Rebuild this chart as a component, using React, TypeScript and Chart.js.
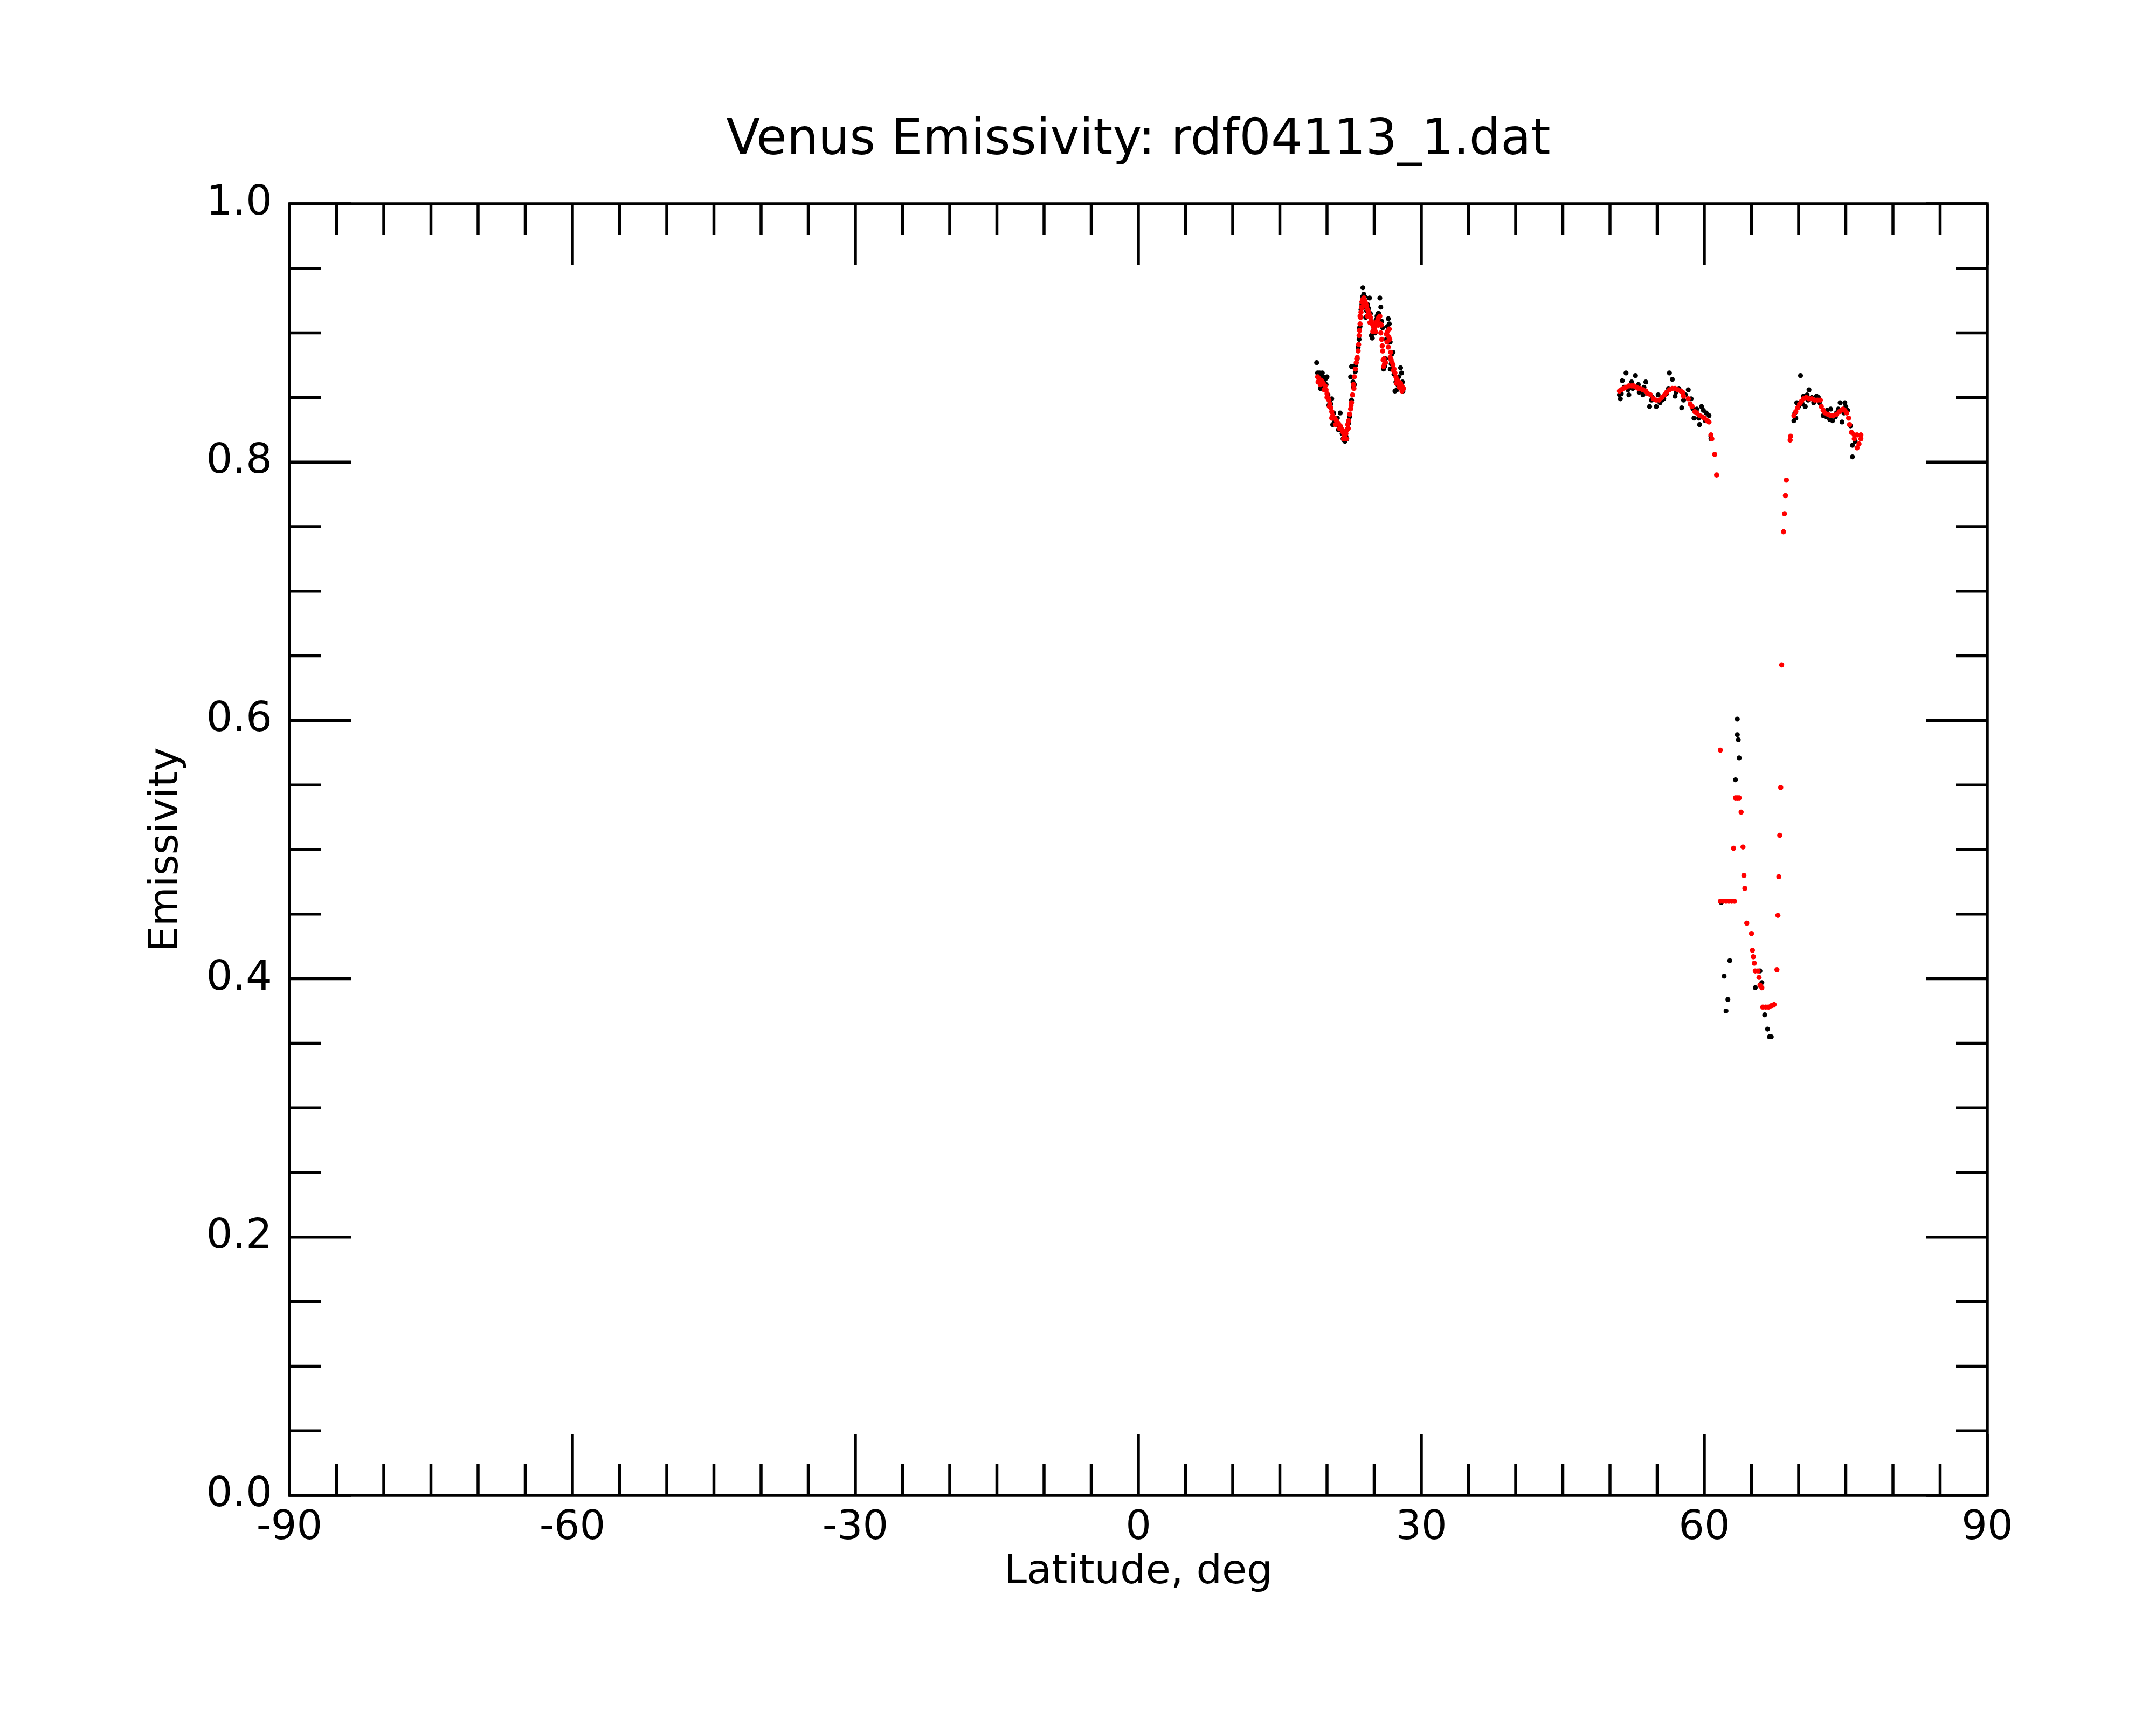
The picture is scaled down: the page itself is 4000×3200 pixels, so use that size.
import { useEffect, useRef } from 'react';
import { Chart, registerables } from 'chart.js';

Chart.register(...registerables);

const FONT = 'DejaVu Sans';

// red (filtered) points: latitude, emissivity
const redLat = [
  19.0, 19.1, 19.2, 19.4, 19.6, 19.8, 19.9, 20.0, 20.1, 20.2, 20.3, 20.4, 20.5, 20.6, 20.8, 21.0,
  21.2, 21.4, 21.6, 21.7, 21.8, 21.9, 22.0, 22.1, 22.2, 22.3, 22.4, 22.5, 22.6, 22.7, 22.8, 22.9,
  23.0, 23.1, 23.2, 23.3, 23.35, 23.4, 23.45, 23.5, 23.55, 23.6, 23.65, 23.7, 23.8, 23.9, 24.0,
  24.1, 24.2, 24.3, 24.4, 24.5, 24.6, 24.7, 24.8, 24.9, 25.0, 25.1, 25.2, 25.3, 25.4, 25.5, 25.6,
  25.7, 25.75, 25.8, 25.85, 25.9, 25.95, 26.0, 26.1, 26.2, 26.3, 26.4, 26.5, 26.6, 26.65, 26.7,
  26.8, 26.9, 27.0, 27.1, 27.2, 27.3, 27.4, 27.5, 27.6, 27.7, 27.8, 27.9, 28.0, 28.1,
  19.05, 19.3, 19.7, 20.0, 20.25, 20.5, 20.9, 21.3, 21.75, 22.05, 22.25, 22.55, 22.85, 23.15, 23.5, 23.7,
  23.85, 24.25, 24.55, 24.85, 25.15, 25.45, 25.65, 26.05, 26.35, 26.55, 26.75, 27.05, 27.35, 27.65, 27.95,
  51.0, 51.2, 51.4, 51.7, 52.0, 52.3, 52.5, 52.8, 53.0, 53.2, 53.5, 53.8, 54.0, 54.3, 54.6, 54.9,
  55.2, 55.5, 55.8, 56.0, 56.3, 56.6, 56.9, 57.2, 57.5, 57.7, 57.8, 58.3, 58.5, 58.7, 59.0, 59.2,
  59.5, 59.8, 60.0, 60.3, 60.5, 60.7, 60.8, 61.1, 61.3,
  61.7, 61.7, 62.0, 62.3, 62.6, 62.9, 63.2, 63.3, 63.5, 63.7, 63.9, 63.1, 64.1, 64.2, 64.3, 64.5,
  65.0, 65.1, 65.2, 65.3, 65.4, 65.7, 65.8, 65.9, 66.1, 66.2, 66.5, 66.8, 67.1, 67.4, 67.7, 67.8,
  67.9, 68.0, 68.1, 68.2, 68.4, 68.5, 68.6, 68.7, 69.1, 69.15,
  69.5, 69.7, 69.9, 70.1, 70.3, 70.5, 70.8, 71.1, 71.4, 71.7, 72.0, 72.3, 72.4, 72.6, 72.8, 73.1,
  73.4, 73.7, 74.0, 74.3, 74.5, 74.7, 74.9, 75.1, 75.3, 75.4, 75.6, 75.9, 76.2, 76.6, 76.6, 76.4,
  76.2, 75.9,
];
const redEm = [
  0.866, 0.865, 0.864, 0.863, 0.861, 0.859, 0.856, 0.853, 0.85, 0.848, 0.845, 0.842, 0.839, 0.836, 0.834, 0.832,
  0.83, 0.828, 0.825, 0.823, 0.821, 0.819, 0.822, 0.825, 0.829, 0.832, 0.837, 0.841, 0.846, 0.852, 0.86, 0.866,
  0.872, 0.877, 0.881, 0.886, 0.891, 0.898, 0.902, 0.907, 0.912, 0.916, 0.92, 0.924, 0.926, 0.927, 0.925,
  0.923, 0.921, 0.918, 0.916, 0.914, 0.912, 0.909, 0.907, 0.905, 0.903, 0.905, 0.907, 0.909, 0.911, 0.912, 0.913,
  0.9, 0.906, 0.895, 0.89, 0.886, 0.879, 0.874, 0.876, 0.877, 0.899, 0.901, 0.889, 0.903, 0.895, 0.881,
  0.879, 0.877, 0.875, 0.872, 0.869, 0.866, 0.864, 0.863, 0.862, 0.861, 0.861, 0.859, 0.858, 0.857,
  0.862, 0.86, 0.856, 0.85, 0.843, 0.834, 0.829, 0.826, 0.818, 0.818, 0.826, 0.844, 0.857, 0.88, 0.913, 0.919,
  0.921, 0.913, 0.908, 0.901, 0.901, 0.906, 0.907, 0.88, 0.893, 0.897, 0.885, 0.871, 0.861, 0.858, 0.855,
  0.855, 0.856, 0.857, 0.858, 0.859, 0.859, 0.859, 0.858, 0.857, 0.857, 0.856, 0.855, 0.853, 0.852, 0.849, 0.848,
  0.848, 0.85, 0.852, 0.854, 0.856, 0.857, 0.857, 0.856, 0.855, 0.854, 0.851, 0.849, 0.845, 0.843, 0.839, 0.838,
  0.836, 0.835, 0.834, 0.832, 0.831, 0.821, 0.818, 0.806, 0.79,
  0.577, 0.46, 0.46, 0.46, 0.46, 0.46, 0.46, 0.54, 0.54, 0.54, 0.529, 0.501, 0.502, 0.48, 0.47, 0.443,
  0.435, 0.422, 0.417, 0.412, 0.406, 0.406, 0.401, 0.395, 0.393, 0.378, 0.378, 0.378, 0.379, 0.38, 0.407, 0.449,
  0.479, 0.511, 0.548, 0.643, 0.746, 0.76, 0.774, 0.786, 0.817, 0.82,
  0.836, 0.839, 0.842, 0.845, 0.847, 0.849, 0.85, 0.849, 0.849, 0.848, 0.848, 0.848, 0.843, 0.84, 0.838, 0.837,
  0.836, 0.836, 0.837, 0.839, 0.84, 0.841, 0.84, 0.838, 0.834, 0.829, 0.823, 0.821, 0.821, 0.821, 0.818, 0.814,
  0.811, 0.818,
];

// black (raw) points: latitude, emissivity
const blackLat = [
  18.9, 19.0, 19.2, 19.3, 19.5, 19.6, 19.8, 20.0, 20.1, 20.3, 20.5, 20.6, 20.7, 20.9, 21.0, 21.2,
  21.4, 21.5, 21.7, 21.8, 22.0, 22.1, 22.3, 22.5, 22.6, 22.7, 22.8, 22.9, 23.0, 23.2, 23.4, 23.5,
  23.7, 23.8, 23.9, 24.0, 24.1, 24.3, 24.5, 24.6, 24.7, 24.8, 25.0, 25.2, 25.4, 25.6, 25.7, 25.9,
  26.0, 26.2, 26.4, 26.5, 26.6, 26.7, 26.9, 27.0, 27.2, 27.4, 27.6, 27.8, 27.9, 28.0,
  19.1, 19.4, 19.7, 19.9, 20.2, 20.4, 20.8, 21.1, 21.3, 21.6, 21.9, 22.2, 22.4, 22.6, 22.75, 23.05,
  23.3, 23.45, 23.6, 23.75, 24.0, 24.2, 24.4, 24.6, 24.9, 25.1, 25.3, 25.5, 25.8, 26.1, 26.3, 26.7,
  26.8, 27.1, 27.3, 27.5, 27.7, 28.05,
  51.0, 51.1, 51.3, 51.5, 51.7, 52.0, 52.3, 52.7, 53.0, 53.3, 53.5, 53.8, 54.2, 54.5, 54.9, 55.1,
  55.5, 56.0, 56.3, 56.6, 56.9, 57.3, 57.6, 58.0, 58.3, 58.6, 58.9, 59.2, 59.5, 59.7, 59.9, 60.2,
  60.5, 60.7,
  51.2, 51.9, 52.4, 53.1, 53.6, 54.4, 55.3, 55.7, 56.2, 57.0, 57.8, 58.8, 59.4, 60.1, 60.7,
  61.8, 62.1, 62.3, 62.5, 62.7, 63.3, 63.5, 63.5, 63.6, 63.7, 65.4, 65.9, 66.1, 66.4, 66.7, 66.9,
  67.1,
  69.5, 69.6, 69.8, 70.0, 70.2, 70.5, 70.7, 70.9, 71.1, 71.4, 71.9, 72.2, 72.6, 73.0, 73.4, 73.6,
  74.0, 74.4, 74.6, 74.9, 75.2, 75.7, 75.7,
  69.7, 70.4, 71.0, 71.6, 72.1, 72.9, 73.3, 73.9, 74.2, 74.8, 75.0, 75.5, 76.0,
];
const blackEm = [
  0.877, 0.869, 0.869, 0.857, 0.869, 0.866, 0.864, 0.866, 0.852, 0.846, 0.849, 0.829, 0.838, 0.834, 0.829, 0.825,
  0.838, 0.826, 0.818, 0.817, 0.82, 0.818, 0.83, 0.866, 0.874, 0.874, 0.858, 0.86, 0.87, 0.88, 0.895, 0.905,
  0.922, 0.935, 0.93, 0.92, 0.912, 0.922, 0.927, 0.915, 0.898, 0.896, 0.906, 0.91, 0.915, 0.927, 0.92, 0.904,
  0.872, 0.88, 0.905, 0.911, 0.907, 0.872, 0.884, 0.885, 0.855, 0.856, 0.866, 0.873, 0.869, 0.862,
  0.862, 0.866, 0.858, 0.86, 0.844, 0.845, 0.831, 0.834, 0.827, 0.822, 0.816, 0.826, 0.835, 0.848, 0.862, 0.875,
  0.889, 0.904, 0.918, 0.928, 0.928, 0.917, 0.919, 0.908, 0.902, 0.9, 0.913, 0.915, 0.909, 0.874, 0.895, 0.893,
  0.876, 0.868, 0.862, 0.86, 0.858, 0.855,
  0.852, 0.849, 0.863, 0.858, 0.869, 0.852, 0.862, 0.867, 0.86, 0.855, 0.852, 0.862, 0.843, 0.85, 0.843, 0.852,
  0.848, 0.853, 0.869, 0.864, 0.851, 0.857, 0.842, 0.852, 0.856, 0.849, 0.834, 0.841, 0.829, 0.843, 0.84, 0.838,
  0.836, 0.818,
  0.853, 0.856, 0.857, 0.854, 0.858, 0.848, 0.846, 0.849, 0.857, 0.854, 0.848, 0.841, 0.834, 0.832, 0.82,
  0.459, 0.402, 0.375, 0.384, 0.414, 0.554, 0.601, 0.589, 0.585, 0.571, 0.393, 0.406, 0.397, 0.372, 0.361, 0.355,
  0.355,
  0.832, 0.838, 0.846, 0.843, 0.867, 0.851, 0.843, 0.852, 0.856, 0.85, 0.851, 0.846, 0.836, 0.84, 0.841, 0.832,
  0.838, 0.846, 0.831, 0.846, 0.84, 0.813, 0.804,
  0.834, 0.845, 0.848, 0.846, 0.85, 0.835, 0.833, 0.835, 0.841, 0.838, 0.843, 0.828, 0.816,
];

const xMajor = [-90, -60, -30, 0, 30, 60, 90];
const xMinorStep = 5;
const yMinorStep = 0.05;
const yMajorStep = 0.2;

const toPoints = (xs: number[], ys: number[]) => xs.map((x, i) => ({ x, y: ys[i] }));

// frame, inward ticks on all four sides, and the chart title
const framePlugin = {
  id: 'idlFrame',
  afterDraw(chart: any) {
    const { ctx, chartArea } = chart;
    const { left, right, top, bottom } = chartArea;
    const xs = chart.scales.x;
    const ys = chart.scales.y;
    ctx.save();
    ctx.strokeStyle = '#000';
    ctx.lineWidth = 5.5;
    ctx.lineCap = 'butt';
    ctx.strokeRect(left, top, right - left, bottom - top);

    const majorLen = 114;
    const minorLen = 58;
    ctx.beginPath();
    for (let v = -90; v <= 90; v += xMinorStep) {
      const px = xs.getPixelForValue(v);
      const len = xMajor.includes(v) ? majorLen : minorLen;
      ctx.moveTo(px, bottom);
      ctx.lineTo(px, bottom - len);
      ctx.moveTo(px, top);
      ctx.lineTo(px, top + len);
    }
    for (let i = 0; i <= 20; i++) {
      const v = i * yMinorStep;
      const py = ys.getPixelForValue(v);
      const isMajor = i % Math.round(yMajorStep / yMinorStep) === 0;
      const len = isMajor ? majorLen : minorLen;
      ctx.moveTo(left, py);
      ctx.lineTo(left + len, py);
      ctx.moveTo(right, py);
      ctx.lineTo(right - len, py);
    }
    ctx.stroke();

    ctx.fillStyle = '#000';
    ctx.font = `92px "${FONT}"`;
    ctx.textAlign = 'center';
    ctx.textBaseline = 'alphabetic';
    ctx.fillText('Venus Emissivity: rdf04113_1.dat', (left + right) / 2, 286);
    ctx.restore();
  },
};

export default function App() {
  const canvasRef = useRef<HTMLCanvasElement>(null);
  const chartRef = useRef<Chart | null>(null);

  useEffect(() => {
    if (!canvasRef.current) return;
    if (chartRef.current) chartRef.current.destroy();

    chartRef.current = new Chart(canvasRef.current, {
      type: 'scatter',
      data: {
        datasets: [
          {
            label: 'filtered',
            data: toPoints(redLat, redEm),
            backgroundColor: '#ff0000',
            borderWidth: 0,
            pointRadius: 4.8,
          },
          {
            label: 'raw',
            data: toPoints(blackLat, blackEm),
            backgroundColor: '#000000',
            borderWidth: 0,
            pointRadius: 4.6,
          },
        ],
      },
      options: {
        responsive: false,
        devicePixelRatio: 1,
        animation: false,
        layout: { padding: { top: 378, right: 313, bottom: 0, left: 0 } },
        plugins: {
          legend: { display: false },
          title: { display: false },
          tooltip: { enabled: false },
        },
        scales: {
          x: {
            type: 'linear',
            min: -90,
            max: 90,
            grid: { display: false },
            border: { display: false },
            ticks: {
              stepSize: 30,
              padding: 9,
              color: '#000',
              maxRotation: 0,
              font: { family: FONT, size: 75 },
            },
            title: {
              display: true,
              text: 'Latitude, deg',
              color: '#000',
              font: { family: FONT, size: 75 },
              padding: { top: 0, bottom: 237 },
            },
            afterFit: (scale: any) => {
              scale.height = 426;
            },
          },
          y: {
            type: 'linear',
            min: 0,
            max: 1,
            grid: { display: false },
            border: { display: false },
            ticks: {
              stepSize: yMajorStep,
              padding: 24,
              color: '#000',
              font: { family: FONT, size: 77 },
              callback: (value: any) => Number(value).toFixed(1),
            },
            title: {
              display: true,
              text: 'Emissivity',
              color: '#000',
              font: { family: FONT, size: 75 },
              padding: { top: 265, bottom: 0 },
            },
            afterFit: (scale: any) => {
              scale.width = 537;
            },
          },
        },
      },
      plugins: [framePlugin],
    });

    return () => {
      if (chartRef.current) {
        chartRef.current.destroy();
        chartRef.current = null;
      }
    };
  }, []);

  return (
    <div style={{ position: 'absolute', left: 0, top: 0, width: 4000, height: 3200, background: '#fff' }}>
      <canvas ref={canvasRef} width={4000} height={3200}></canvas>
    </div>
  );
}
